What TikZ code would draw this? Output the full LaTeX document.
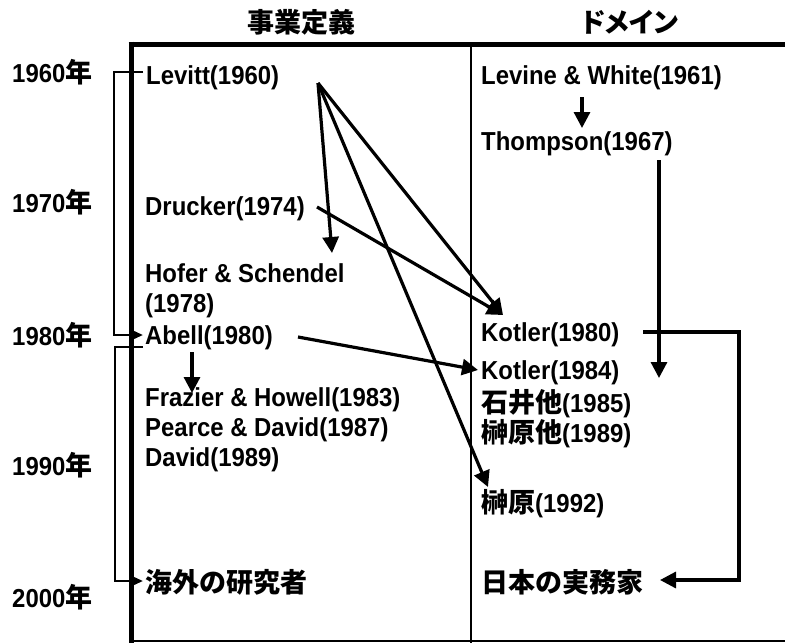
\documentclass[tikz,border=0pt]{standalone}
\usepackage{fontspec}
\setmainfont{Liberation Sans}[FakeStretch=0.92]
\newfontfamily\jpfam{Noto Sans CJK JP}
\newfontfamily\jppfam{Noto Sans CJK JP}[RawFeature=+palt]
\newcommand\jpt[1]{{\jpfam\fontsize{27}{30}\selectfont\bfseries #1}}
\newcommand\jppt[1]{{\jppfam\fontsize{27}{30}\selectfont\bfseries #1}}
\usetikzlibrary{arrows.meta}
\begin{document}
\begin{tikzpicture}[x=1pt,y=-1pt,
  txt/.style={anchor=base west, inner sep=0pt, font=\fontsize{26}{30}\selectfont\bfseries},
  hdr/.style={anchor=base, inner sep=0pt, font=\fontsize{26}{30}\selectfont\bfseries},
  arr/.style={line width=3.2pt, -{Triangle[length=16pt,width=16pt]}},
  brk/.style={line width=2.8pt, -{Triangle[length=14pt,width=12pt]}},
  thickframe/.style={line width=5pt},
  thinframe/.style={line width=2.5pt}]
\useasboundingbox (0,0) rectangle (785,643);
% frame
\draw[thickframe] (128.5,44) -- (785,44);
\draw[thickframe] (131,41.5) -- (131,643);
\draw[thinframe] (471,44) -- (471,643);
\draw[thinframe] (131,641) -- (785,641);
% headers
\node[hdr] (h1) at (301,32) {\jpt{事業定義}};
\node[hdr] (h2) at (630,32) {\jppt{ドメイン}};
% years
\node[txt] (y60) at (12,82) {1960\jpt{年}};
\node[txt] (y70) at (12,212) {1970\jpt{年}};
\node[txt] (y80) at (12,345) {1980\jpt{年}};
\node[txt] (y90) at (12,475) {1990\jpt{年}};
\node[txt] (y00) at (12,607) {2000\jpt{年}};
% left column
\node[txt] (levitt) at (146,84) {Levitt(1960)};
\node[txt] (drucker) at (145,215) {Drucker(1974)};
\node[txt] (hofer) at (145,282) {Hofer \& Schendel};
\node[txt] (hofery) at (145,312) {(1978)};
\node[txt] (abell) at (145,344) {Abell(1980)};
\node[txt] (frazier) at (145,406) {Frazier \& Howell(1983)};
\node[txt] (pearce) at (145,436) {Pearce \& David(1987)};
\node[txt] (david) at (145,466) {David(1989)};
\node[txt] (kaigai) at (145,592) {\jpt{海外の研究者}};
% right column
\node[txt] (levine) at (481,84) {Levine \& White(1961)};
\node[txt] (thompson) at (481,150) {Thompson(1967)};
\node[txt] (kotlera) at (481,341) {Kotler(1980)};
\node[txt] (kotlerb) at (481,379) {Kotler(1984)};
\node[txt] (ishii) at (481,412) {\jpt{石井他}(1985)};
\node[txt] (sakaa) at (481,442) {\jpt{榊原他}(1989)};
\node[txt] (sakab) at (481,512) {\jpt{榊原}(1992)};
\node[txt] (nihon) at (481,592) {\jpt{日本の実務家}};
% connector points
\coordinate (lvS) at (318,83);
\coordinate (hfT) at (332,253);
\coordinate (k80T) at (503,315);
\coordinate (sbT) at (488,487);
\coordinate (drS) at (317,207);
\coordinate (abS) at (298,337);
\coordinate (k84T) at (478,370);
\coordinate (abD) at (192,352);
\coordinate (frT) at (192,393);
\coordinate (lwS) at (582,97);
\coordinate (thT) at (582,128);
\coordinate (thS) at (659,160);
\coordinate (thE) at (659,378);
\coordinate (k80S) at (643,332);
\coordinate (nhT) at (660,580);
\coordinate (b1S) at (143,72);
\coordinate (b1T) at (143,335);
\coordinate (b2S) at (143,347);
\coordinate (b2T) at (143,581);
% arrows
\draw[arr] (lvS) -- (hfT);
\draw[arr] (lvS) -- (k80T);
\draw[arr] (lvS) -- (sbT);
\draw[arr] (drS) -- (k80T);
\draw[arr] (abS) -- (k84T);
\draw[arr] (abD) -- (frT);
\draw[arr] (lwS) -- (thT);
\draw[arr] (thS) -- (thE);
\draw[arr] (k80S) -- (739,332) -- (739,580) -- (nhT);
\draw[brk] (b1S) -- (114,72) -- (114,335) -- (b1T);
\draw[brk] (b2S) -- (115,347) -- (115,581) -- (b2T);
\end{tikzpicture}
\end{document}
